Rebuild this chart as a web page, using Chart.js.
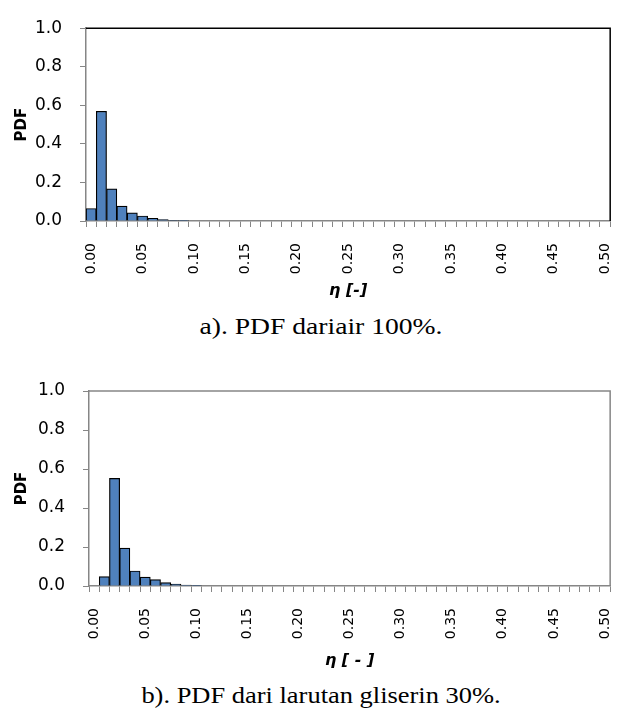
<!DOCTYPE html>
<html>
<head>
<meta charset="utf-8">
<script src="https://cdn.jsdelivr.net/npm/chart.js@4"></script>
<style>
  body { margin: 0; background: #fff; width: 638px; height: 709px; position: relative; overflow: hidden; }
  canvas { position: absolute; left: 0; }
  #c1 { top: 0; }
  #c2 { top: 360px; }
  .caption { position: absolute; left: 0; width: 642px; text-align: center; font-family: "Liberation Serif", serif; color: #000; white-space: nowrap; transform: scaleX(1.15); transform-origin: 321px 50%; }
  #cap1 { top: 314px; font-size: 24px; line-height: 24px; }
  #cap2 { top: 684px; font-size: 23px; line-height: 23px; }
</style>
</head>
<body>
<canvas id="c1" width="638" height="300"></canvas>
<div class="caption" id="cap1">a). PDF dariair 100%.</div>
<canvas id="c2" width="638" height="310"></canvas>
<div class="caption" id="cap2">b). PDF dari larutan gliserin 30%.</div>
<script>
// eta classes (bin labels on the x axis)
const etaLabels = [
  "0.00", "0.01", "0.02", "0.03", "0.04", "0.05", "0.06", "0.07", "0.08", "0.09",
  "0.10", "0.11", "0.12", "0.13", "0.14", "0.15", "0.16", "0.17", "0.18", "0.19",
  "0.20", "0.21", "0.22", "0.23", "0.24", "0.25", "0.26", "0.27", "0.28", "0.29",
  "0.30", "0.31", "0.32", "0.33", "0.34", "0.35", "0.36", "0.37", "0.38", "0.39",
  "0.40", "0.41", "0.42", "0.43", "0.44", "0.45", "0.46", "0.47", "0.48", "0.49",
  "0.50"
];

// a) air 100%
const pdfAir = [
  0.065, 0.569, 0.167, 0.077, 0.042, 0.026, 0.014, 0.007, 0.003, 0.001,
  0, 0, 0, 0, 0, 0, 0, 0, 0, 0,
  0, 0, 0, 0, 0, 0, 0, 0, 0, 0,
  0, 0, 0, 0, 0, 0, 0, 0, 0, 0,
  0, 0, 0, 0, 0, 0, 0, 0, 0, 0,
  0
];

// b) larutan gliserin 30%
const pdfGliserin = [
  0, 0.048, 0.552, 0.194, 0.077, 0.046, 0.033, 0.017, 0.010, 0.005,
  0.002, 0, 0, 0, 0, 0, 0, 0, 0, 0,
  0, 0, 0, 0, 0, 0, 0, 0, 0, 0,
  0, 0, 0, 0, 0, 0, 0, 0, 0, 0,
  0, 0, 0, 0, 0, 0, 0, 0, 0, 0,
  0
];

const axisGray = '#868686';

// top + right edges of the plot box
const framePlugin = {
  id: 'frame',
  afterDraw(chart, args, opts) {
    const a = chart.chartArea;
    const ctx = chart.ctx;
    ctx.save();
    ctx.strokeStyle = opts.color;
    ctx.lineWidth = opts.width;
    ctx.beginPath();
    ctx.moveTo(a.left, a.top);
    ctx.lineTo(a.right, a.top);
    ctx.lineTo(a.right, a.bottom);
    ctx.stroke();
    ctx.restore();
  }
};

function makeChart(id, values, cfg) {
  const ctx = document.getElementById(id);
  return new Chart(ctx, {
    type: 'bar',
    data: {
      labels: etaLabels,
      datasets: [{
        data: values,
        backgroundColor: '#4f81bd',
        borderColor: '#000',
        borderWidth: 1.2,
        barPercentage: 1,
        categoryPercentage: 1
      }]
    },
    plugins: [framePlugin],
    options: {
      responsive: false,
      animation: false,
      layout: { padding: { top: cfg.top, right: 16, left: 0, bottom: 0 } },
      plugins: {
        legend: { display: false },
        tooltip: { enabled: false },
        frame: { color: cfg.frameColor, width: 1.5 }
      },
      scales: {
        x: {
          afterFit: function (scale) { scale.height = cfg.xHeight; },
          grid: { drawOnChartArea: false, drawTicks: true, tickLength: 6, color: axisGray, offset: true },
          border: { color: axisGray, width: 1.5 },
          ticks: {
            autoSkip: false,
            maxRotation: 90,
            minRotation: 90,
            padding: 16,
            color: '#000',
            font: { family: 'DejaVu Sans', size: 14 },
            // only every fifth class gets a label
            callback: function (value, index) {
              return index % 5 === 0 ? etaLabels[index] : '';
            }
          },
          title: {
            display: true,
            text: cfg.xTitle,
            color: '#000',
            font: { family: 'DejaVu Sans', size: 16, weight: 'bold', style: 'italic' },
            padding: { top: 0, bottom: 0 }
          }
        },
        y: {
          min: 0,
          max: 1,
          afterFit: function (scale) { scale.width = cfg.yWidth; },
          grid: { drawOnChartArea: false, drawTicks: true, tickLength: 6, color: axisGray },
          border: { color: axisGray, width: 1.5 },
          ticks: {
            stepSize: 0.2,
            padding: 18,
            color: '#000',
            font: { family: 'DejaVu Sans', size: 17 },
            callback: function (value) { return value.toFixed(1); }
          },
          title: {
            display: true,
            text: 'PDF',
            color: '#000',
            font: { family: 'DejaVu Sans', size: 15, weight: 'bold' },
            padding: { top: 13, bottom: 0 }
          }
        }
      }
    }
  });
}

makeChart('c1', pdfAir, { top: 20, xHeight: 79, yWidth: 86, xTitle: 'η [-]', frameColor: '#000' });
makeChart('c2', pdfGliserin, { top: 31, xHeight: 84, yWidth: 89, xTitle: 'η [ - ]', frameColor: axisGray });
</script>
</body>
</html>
